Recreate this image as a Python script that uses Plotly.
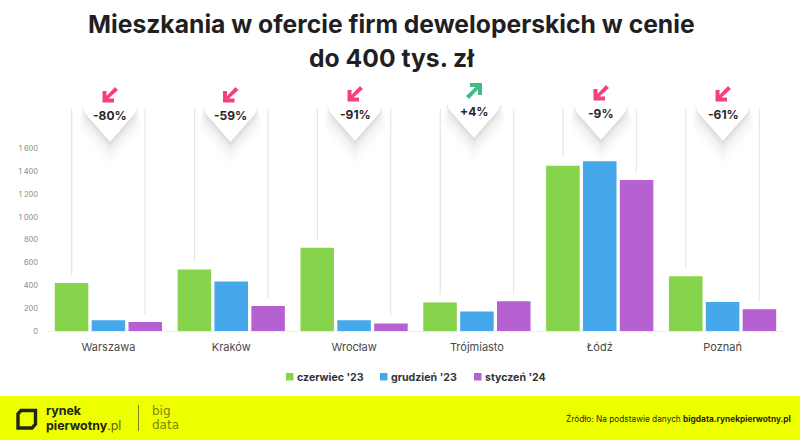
import plotly.graph_objects as go

W, H = 800, 440
L, R, T, B = 47, 784, 103, 331

categories = ["Warszawa", "Kraków", "Wrocław", "Trójmiasto", "Łódź", "Poznań"]
series_names = ["czerwiec '23", "grudzień '23", "styczeń '24"]
jun23 = [420, 540, 730, 250, 1450, 480]
dec23 = [95, 435, 95, 170, 1490, 255]
jan24 = [80, 220, 65, 260, 1325, 190]
changes = ["-80%", "-59%", "-91%", "+4%", "-9%", "-61%"]
tick_vals = [0, 200, 400, 600, 800, 1000, 1200, 1400, 1600]
tick_text = ["0", "200", "400", "600", "800", "1 000", "1 200", "1 400", "1 600"]
colors = ["#86D44B", "#45A8EA", "#B561D1"]
pin_tip_x = [110, 230.5, 355, 474, 601, 723]
pin_tip_y = [142, 142, 141, 138, 140, 141]

PINK, GREEN, DARK = "#F5407F", "#3FBB85", "#26262B"
FONT = "Inter"


def px(x):
    return (x - L) / (R - L)


def py(y):
    return (B - y) / (B - T)


def poly(points):
    return "M" + " L".join(f"{px(a):.5f},{py(b):.5f}" for a, b in points) + " Z"


def pin_path(cx, tip, dy=0.0, grow=0.0, top=58.0):
    r = 27.5 + grow
    c = tip - 40
    sy = c + 7 + dy
    ty = tip - top + dy if top < 58 else tip - top
    pts_tip = (cx, tip + dy + grow)
    return (
        f"M{px(pts_tip[0]):.5f},{py(pts_tip[1]):.5f} "
        f"L{px(cx - r + 3):.5f},{py(sy + 5):.5f} "
        f"Q{px(cx - r):.5f},{py(sy):.5f} {px(cx - r):.5f},{py(sy - 5):.5f} "
        f"L{px(cx - r):.5f},{py(ty):.5f} L{px(cx + r):.5f},{py(ty):.5f} "
        f"L{px(cx + r):.5f},{py(sy - 5):.5f} "
        f"Q{px(cx + r):.5f},{py(sy):.5f} {px(cx + r - 3):.5f},{py(sy + 5):.5f} Z"
    )


def label(x, y, text, size, color, anchor="center", family=FONT):
    return dict(xref="paper", yref="paper", x=px(x), y=py(y), xanchor=anchor, yanchor="middle",
                text=text, showarrow=False, font=dict(family=family, size=size, color=color))


fig = go.Figure()
for name, vals, col in zip(series_names, [jun23, dec23, jan24], colors):
    fig.add_bar(x=categories, y=vals, name=name, marker_color=col, marker_line_width=0, showlegend=False)

shapes = []
annos = []

# guide lines rising from the outer bars
for i in range(len(categories)):
    for off, v in ((-0.2985, jun23[i]), (0.2985, jan24[i])):
        shapes.append(dict(type="line", xref="x", yref="y", x0=i + off, x1=i + off,
                           y0=v + 70, y1=1950, line=dict(color="#E6E6E6", width=1.2), layer="below"))

# pins with soft shadow
for i, ch in enumerate(changes):
    cx, tip = pin_tip_x[i], pin_tip_y[i]
    for g, d, o in ((4, 20, 0.012), (3, 16, 0.018), (2, 12, 0.028), (1, 8, 0.04), (0, 5, 0.05), (0, 2, 0.06)):
        shapes.append(dict(type="path", xref="paper", yref="paper", path=pin_path(cx, tip, d, g, top=40),
                           fillcolor=f"rgba(70,70,70,{o})", line_width=0, layer="above"))
    shapes.append(dict(type="path", xref="paper", yref="paper", path=pin_path(cx, tip),
                       fillcolor="white", line_width=0, layer="above"))
    up = ch.startswith("+")
    ax = cx
    ay = tip - 47
    if up:
        arrow = [(ax - 5, ay + 8), (ax - 8, ay + 5), (ax + 1.5, ay - 4), (ax - 4, ay - 4),
                 (ax - 4, ay - 8), (ax + 8, ay - 8), (ax + 8, ay + 4),
                 (ax + 4, ay + 4), (ax + 4, ay - 1.5)]
    else:
        arrow = [(ax + 5, ay - 8), (ax + 8, ay - 5), (ax - 1.5, ay + 3.5), (ax + 4, ay + 3.5),
                 (ax + 4, ay + 7.5), (ax - 7.5, ay + 7.5), (ax - 7.5, ay - 4),
                 (ax - 3.5, ay - 4), (ax - 3.5, ay + 1)]
    shapes.append(dict(type="path", xref="paper", yref="paper", path=poly(arrow),
                       fillcolor=GREEN if up else PINK, line_width=0, layer="above"))
    annos.append(label(cx, tip - 27, f"<b>{ch}</b>", 12, DARK))

# manual legend
legend_sq = [286, 380, 474]
for x0, name, col in zip(legend_sq, series_names, colors):
    shapes.append(dict(type="rect", xref="paper", yref="paper", x0=px(x0), x1=px(x0 + 7.5),
                       y0=py(380.5), y1=py(373), fillcolor=col, line_width=0))
    annos.append(label(x0 + 9, 377, f"<b>{name}</b>", 10.6, "#33333A", "left"))

# footer band
shapes.append(dict(type="rect", xref="paper", yref="paper", x0=px(0), x1=px(W), y0=py(440), y1=py(396),
                   fillcolor="#EEFF00", line_width=0, layer="above"))
shapes.append(dict(type="path", xref="paper", yref="paper",
                   path=poly([(21, 410.5), (35.5, 410.5), (35.5, 424), (32, 428), (18, 428), (18, 414)]),
                   fillcolor="rgba(0,0,0,0)", line=dict(color="#23251A", width=3.4), layer="above"))
shapes.append(dict(type="line", xref="paper", yref="paper", x0=px(138.5), x1=px(138.5), y0=py(431), y1=py(405),
                   line=dict(color="#7C8512", width=1), layer="above"))

annos.append(label(43.5, 410, "<b>rynek</b>", 12.4, "#23251A", "left"))
annos.append(label(43.5, 425.5, "<b>pierwotny</b><span style='color:#5c6012'>.pl</span>", 12.4, "#23251A", "left"))
annos.append(label(149.5, 410.5, "big", 12, "#7C8512", "left", "DejaVu Sans"))
annos.append(label(149.5, 425, "data", 12, "#7C8512", "left", "DejaVu Sans"))
annos.append(label(793, 418, "Źródło: Na podstawie danych <b>bigdata.rynekpierwotny.pl</b>", 8.3, "#2a2c14", "right"))

# title
for y, t in ((24, "Mieszkania w ofercie firm deweloperskich w cenie"), (58, "do 400 tys. zł")):
    annos.append(label(391, y, f"<b>{t}</b>", 24.7, "#1F1F24"))

fig.update_layout(
    width=W, height=H, autosize=False,
    margin=dict(l=L, r=W - R, t=T, b=H - B, pad=0),
    paper_bgcolor="white", plot_bgcolor="white",
    barmode="group", bargap=0.1, bargroupgap=0.09,
    shapes=shapes, annotations=annos, showlegend=False,
    xaxis=dict(type="category", showgrid=False, showline=True, linecolor="#EDEDED", linewidth=1,
               ticks="", ticklabelstandoff=6, tickfont=dict(family=FONT, size=11, color="#4A4A4A")),
    yaxis=dict(range=[0, 2000], tickvals=tick_vals, ticktext=tick_text, showgrid=False, zeroline=False,
               showline=False, ticks="", ticklabelstandoff=8, tickfont=dict(family=FONT, size=7.5, color="#8A8A8A")),
)
fig.write_html("out.html", config={"displayModeBar": False},
               post_script="document.body.style.margin='0';document.documentElement.style.overflow='hidden';")
